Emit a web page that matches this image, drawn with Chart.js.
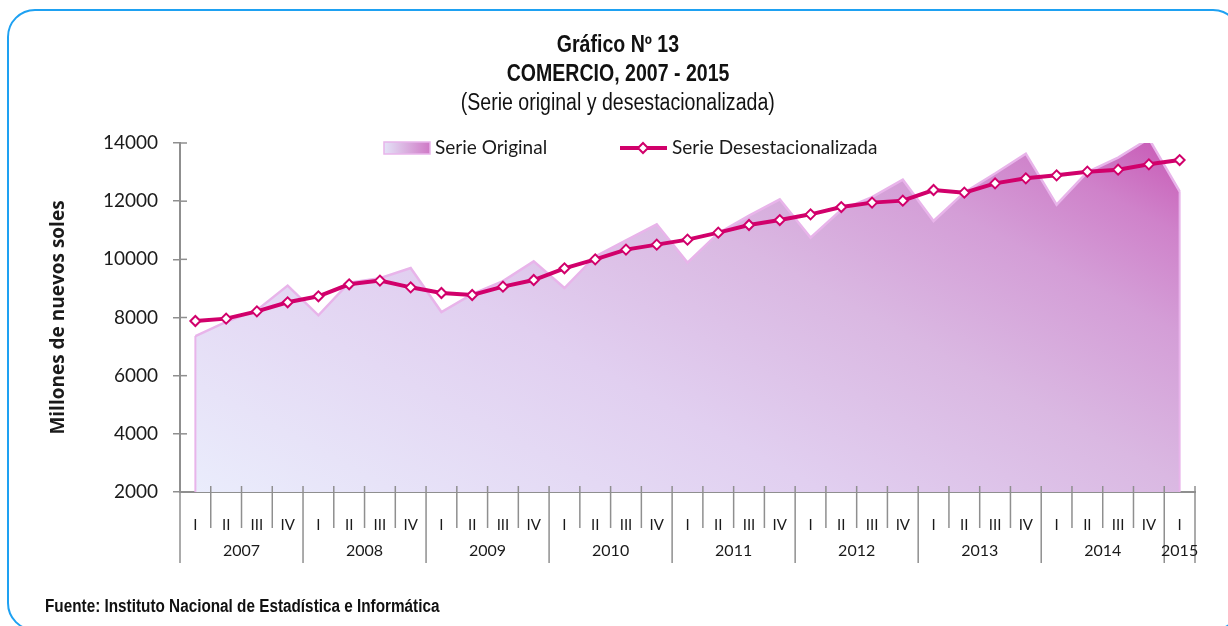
<!DOCTYPE html>
<html>
<head>
<meta charset="utf-8">
<title>Comercio 2007 - 2015</title>
<script src="https://cdn.jsdelivr.net/npm/chart.js@4/dist/chart.umd.min.js"></script>
<style>
  html, body { margin: 0; padding: 0; background: #fff; }
  #wrap { position: relative; width: 1228px; height: 626px; overflow: hidden; }
  #frame {
    position: absolute; left: 7px; top: 9px; width: 1234px; height: 622px;
    border: 2px solid #1ea1f2; border-radius: 28px; box-sizing: border-box;
  }
  #chart { position: absolute; left: 0; top: 0; }
  .head {
    position: absolute; left: 0; width: 1236px; text-align: center;
    font-family: 'Liberation Sans', Arial, sans-serif; font-size: 23px;
    line-height: 24px; color: #111; white-space: nowrap;
  }
  .head span { display: inline-block; transform: scaleX(0.85); }
  .bold { font-weight: bold; }
  #source {
    position: absolute; left: 45px; top: 596px; white-space: nowrap;
    font-family: 'Liberation Sans', Arial, sans-serif; font-size: 18px;
    font-weight: bold; line-height: 20px; color: #111;
    transform: scaleX(0.85); transform-origin: left center;
  }
</style>
</head>
<body>
<div id="wrap">
  <canvas id="chart" width="1228" height="626"></canvas>
  <div class="head bold" style="top:32px"><span>Gráfico Nº 13</span></div>
  <div class="head bold" style="top:61px"><span>COMERCIO, 2007 - 2015</span></div>
  <div class="head" style="top:90px"><span>(Serie original y desestacionalizada)</span></div>
  <div id="source">Fuente: Instituto Nacional de Estadística e Informática</div>
  <div id="frame"></div>
</div>
<script>
  // Trimestres 2007-I a 2015-I
  const quarterLabels = [
    "I", "II", "III", "IV", "I", "II", "III", "IV", "I", "II", "III", "IV",
    "I", "II", "III", "IV", "I", "II", "III", "IV", "I", "II", "III", "IV",
    "I", "II", "III", "IV", "I", "II", "III", "IV", "I"
  ];
  const years = ["2007", "2008", "2009", "2010", "2011", "2012", "2013", "2014", "2015"];
  const quartersPerYear = [4, 4, 4, 4, 4, 4, 4, 4, 1];

  // Millones de nuevos soles
  const serieOriginal = [
    7363, 7850, 8250, 9096, 8075, 9200, 9350, 9701,
    8188, 8800, 9250, 9931, 9013, 10100, 10650, 11204,
    9887, 10900, 11500, 12063, 10746, 11700, 12142, 12740,
    11317, 12300, 12950, 13634, 11881, 13000, 13500, 14150,
    12338
  ];
  const serieDesest = [
    7879, 7961, 8212, 8522, 8728, 9141, 9268, 9037,
    8842, 8773, 9061, 9289, 9691, 10000, 10334, 10505,
    10677, 10918, 11180, 11351, 11547, 11798, 11950, 12018,
    12383, 12293, 12613, 12785, 12888, 13015, 13084, 13266,
    13414
  ];

  const yTicks = [2000, 4000, 6000, 8000, 10000, 12000, 14000];

  const LINE = "#d1006b";
  const AXIS = "#8f8f8f";
  const EDGE = "#e8b4ea";
  const TXT = "#1a1a1a";
  const FONT = "Lato, 'Open Sans', sans-serif";

  // degradado lavanda -> magenta, más oscuro hacia la esquina superior derecha
  function areaFill(context) {
    const { ctx, chartArea } = context.chart;
    if (!chartArea) return "#dcc2e7";
    const x0 = chartArea.left, y0 = chartArea.bottom;
    const g = ctx.createLinearGradient(x0, y0, x0 + 417, y0 - 772);
    g.addColorStop(0, "#eaedfc");
    g.addColorStop(0.35, "#e1cff0");
    g.addColorStop(0.55, "#dab8e2");
    g.addColorStop(0.7, "#d49ed7");
    g.addColorStop(0.8, "#cf82ca");
    g.addColorStop(0.9, "#c755b3");
    g.addColorStop(1, "#c03a9f");
    return g;
  }

  // Bordes verticales del área, marcas de los ejes, años y leyenda
  const decor = {
    id: "decor",
    afterDatasetDraw(chart, args) {
      if (args.index !== 1) return;
      const { ctx, chartArea } = chart;
      const pts = args.meta.data;
      ctx.save();
      ctx.strokeStyle = EDGE;
      ctx.lineWidth = 2;
      [pts[0], pts[pts.length - 1]].forEach(p => {
        ctx.beginPath();
        ctx.moveTo(p.x, Math.max(p.y, chartArea.top));
        ctx.lineTo(p.x, chartArea.bottom);
        ctx.stroke();
      });
      ctx.restore();
    },
    afterDraw(chart) {
      const { ctx, chartArea, scales } = chart;
      const x = scales.x, y = scales.y;
      const half = (x.getPixelForValue(1) - x.getPixelForValue(0)) / 2;
      const bottom = chartArea.bottom;
      ctx.save();
      ctx.strokeStyle = AXIS;
      ctx.lineWidth = 1.5;

      // marcas del eje Y hacia dentro
      yTicks.forEach(v => {
        const py = y.getPixelForValue(v);
        ctx.beginPath();
        ctx.moveTo(chartArea.left, py);
        ctx.lineTo(chartArea.left + 7, py);
        ctx.stroke();
      });

      // separadores de trimestres y de años
      const yearEdges = [0];
      quartersPerYear.forEach(n => yearEdges.push(yearEdges[yearEdges.length - 1] + n));
      for (let i = 0; i <= quarterLabels.length; i++) {
        const px = i < quarterLabels.length ? x.getPixelForValue(i) - half : x.getPixelForValue(i - 1) + half;
        const long = yearEdges.includes(i);
        ctx.beginPath();
        ctx.moveTo(px, bottom - 6);
        ctx.lineTo(px, bottom + (long ? 71 : 36));
        ctx.stroke();
      }

      // etiquetas de años
      ctx.fillStyle = TXT;
      ctx.font = "16px " + FONT;
      ctx.textAlign = "center";
      ctx.textBaseline = "middle";
      years.forEach((yr, k) => {
        const a = x.getPixelForValue(yearEdges[k]) - half;
        const b = x.getPixelForValue(yearEdges[k + 1] - 1) + half;
        ctx.fillText(yr, (a + b) / 2, bottom + 59);
      });

      // leyenda
      const ly = chartArea.top + 5;
      const sx = chartArea.left + 204;
      const sg = ctx.createLinearGradient(sx, 0, sx + 46, 0);
      sg.addColorStop(0, "#e4e2f7");
      sg.addColorStop(1, "#cf79c6");
      ctx.fillStyle = sg;
      ctx.fillRect(sx, ly - 6, 46, 12);
      ctx.strokeStyle = EDGE;
      ctx.lineWidth = 1.5;
      ctx.strokeRect(sx, ly - 6, 46, 12);
      ctx.fillStyle = TXT;
      ctx.font = "19px " + FONT;
      ctx.textAlign = "left";
      ctx.fillText("Serie Original", sx + 51, ly);

      const lx = chartArea.left + 440;
      ctx.strokeStyle = LINE;
      ctx.lineWidth = 4;
      ctx.beginPath();
      ctx.moveTo(lx, ly);
      ctx.lineTo(lx + 47, ly);
      ctx.stroke();
      const cx = lx + 23, r = 5;
      ctx.beginPath();
      ctx.moveTo(cx - r, ly);
      ctx.lineTo(cx, ly - r);
      ctx.lineTo(cx + r, ly);
      ctx.lineTo(cx, ly + r);
      ctx.closePath();
      ctx.fillStyle = "#fff";
      ctx.fill();
      ctx.lineWidth = 2;
      ctx.stroke();
      ctx.fillStyle = TXT;
      ctx.fillText("Serie Desestacionalizada", lx + 52, ly);
      ctx.restore();
    }
  };

  new Chart(document.getElementById("chart"), {
    type: "line",
    data: {
      labels: quarterLabels,
      datasets: [
        {
          label: "Serie Desestacionalizada",
          data: serieDesest,
          borderColor: LINE,
          borderWidth: 4,
          pointStyle: "rectRot",
          pointRadius: 5,
          pointBorderWidth: 2,
          pointBackgroundColor: "#fff",
          pointBorderColor: LINE,
          tension: 0,
          fill: false,
          order: 1
        },
        {
          label: "Serie Original",
          data: serieOriginal,
          borderColor: EDGE,
          borderWidth: 2.5,
          backgroundColor: areaFill,
          pointRadius: 0,
          tension: 0,
          fill: "start",
          order: 2
        }
      ]
    },
    options: {
      responsive: false,
      animation: false,
      events: [],
      layout: { padding: { top: 143, right: 33, bottom: 0, left: 0 } },
      plugins: {
        legend: { display: false },
        tooltip: { enabled: false }
      },
      scales: {
        x: {
          offset: true,
          grid: { display: false },
          border: { display: true, color: AXIS, width: 2 },
          ticks: { color: TXT, font: { family: FONT, size: 15 }, padding: 16, maxRotation: 0, autoSkip: false },
          afterFit(scale) { scale.height = 134; }
        },
        y: {
          min: 2000,
          max: 14000,
          ticks: {
            stepSize: 2000,
            color: TXT,
            font: { family: FONT, size: 19 },
            padding: 15,
            callback: v => String(v)
          },
          grid: { drawOnChartArea: false, drawTicks: true, tickLength: 7, color: AXIS, lineWidth: 1.5 },
          border: { display: true, color: AXIS, width: 2 },
          title: {
            display: true,
            text: "Millones de nuevos soles",
            color: TXT,
            font: { family: "'Open Sans', Lato, sans-serif", size: 19, weight: "bold" },
            padding: { top: 47, bottom: 0 }
          },
          afterFit(scale) { scale.width = 180; }
        }
      }
    },
    plugins: [decor]
  });
</script>
</body>
</html>
